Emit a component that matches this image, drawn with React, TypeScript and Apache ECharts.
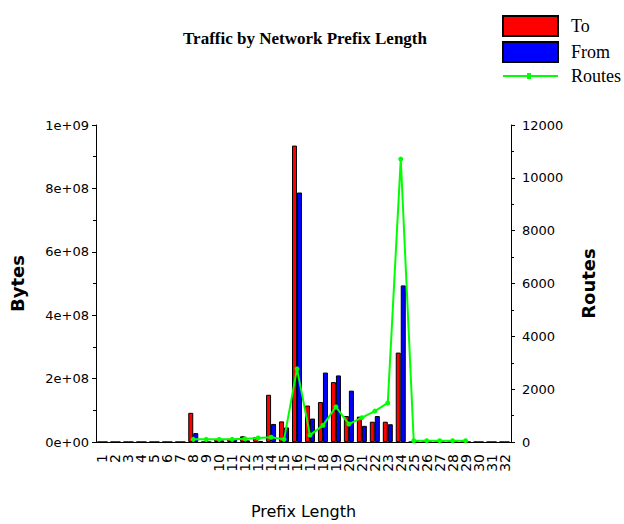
import React, { useEffect, useRef } from "react";
import * as echarts from "echarts";

const categories: string[] = Array.from({ length: 32 }, (_, i) => String(i + 1));

const toBytes: number[] = [
  0, 0, 0, 0, 0, 0, 0, 9.2e7, 0, 9e6,
  1e7, 1.8e7, 1.5e7, 1.49e8, 6.5e7, 9.35e8, 1.15e8, 1.26e8, 1.89e8, 8.2e7,
  8e7, 6.4e7, 6.4e7, 2.82e8, 0, 0, 0, 0, 0, 0,
  0, 0,
];

const fromBytes: number[] = [
  0, 0, 0, 0, 0, 0, 0, 2.8e7, 0, 5e6,
  1e7, 5e6, 3e6, 5.7e7, 4.6e7, 7.87e8, 7.4e7, 2.19e8, 2.1e8, 1.62e8,
  5.1e7, 8.2e7, 5.6e7, 4.94e8, 0, 0, 0, 0, 0, 0,
  0, 0,
];

const routes: (number | null)[] = [
  null, null, null, null, null, null, null, 100, 100, 100,
  100, 120, 150, 180, 100, 2770, 260, 630, 1330, 680,
  920, 1170, 1480, 10710, 50, 50, 50, 50, 50, null,
  null, null,
];

const leftTickLabels: string[] = ["0e+00", "2e+08", "4e+08", "6e+08", "8e+08", "1e+09"];
const rightTickLabels: string[] = ["0", "2000", "4000", "6000", "8000", "10000", "12000"];

const routesIcon =
  "path://M0,2 L24,2 L24,0 L28,0 L28,2 L55,2 L55,4 L28,4 L28,6 L24,6 L24,4 L0,4 Z";

const App: React.FC = () => {
  const ref = useRef<HTMLDivElement>(null);

  useEffect(() => {
    if (!ref.current) return;
    const chart = echarts.init(ref.current, undefined, { renderer: "svg" });
    const axisFont = { fontFamily: "DejaVu Sans", fontSize: 13, color: "#000" };
    chart.setOption({
      animation: false,
      backgroundColor: "#fff",
      title: {
        text: "Traffic by Network Prefix Length",
        left: 300,
        top: 25,
        textAlign: "center",
        textStyle: {
          fontFamily: "Liberation Serif",
          fontWeight: "bold",
          fontSize: 17,
          color: "#000",
        },
      },
      legend: {
        orient: "vertical",
        left: 497,
        top: 10,
        itemWidth: 55,
        itemHeight: 20,
        itemGap: 4,
        data: [
          { name: "To", icon: "rect" },
          { name: "From", icon: "rect" },
          { name: "Routes", icon: routesIcon },
        ],
        textStyle: {
          fontFamily: "Liberation Serif",
          fontSize: 18,
          color: "#000",
          padding: [0, 0, 0, 8],
        },
      },
      grid: { left: 87, right: 113, top: 125, bottom: 74 },
      xAxis: {
        type: "category",
        data: categories,
        name: "Prefix Length",
        nameLocation: "middle",
        nameGap: 61,
        nameTextStyle: { fontFamily: "DejaVu Sans", fontSize: 16, color: "#000" },
        axisLine: { lineStyle: { color: "#000", width: 1 } },
        axisTick: { inside: true, length: 4, alignWithLabel: true, lineStyle: { color: "#000" } },
        axisLabel: { ...axisFont, fontSize: 14, rotate: 90, interval: 0, margin: 12 },
      },
      yAxis: [
        {
          type: "value",
          min: 0,
          max: 1e9,
          interval: 2e8,
          name: "Bytes",
          nameLocation: "middle",
          nameRotate: 90,
          nameGap: 70,
          nameTextStyle: { fontFamily: "DejaVu Sans", fontWeight: "bold", fontSize: 18, color: "#000" },
          axisLine: { show: true, lineStyle: { color: "#000", width: 1 } },
          axisTick: { show: true, length: 4, lineStyle: { color: "#000" } },
          minorTick: { show: true, splitNumber: 2, length: 3, lineStyle: { color: "#000" } },
          splitLine: { show: false },
          axisLabel: {
            ...axisFont,
            margin: 7,
            formatter: (_v: number, i: number) => leftTickLabels[i],
          },
        },
        {
          type: "value",
          min: 0,
          max: 12000,
          interval: 2000,
          position: "right",
          name: "Routes",
          nameLocation: "middle",
          nameRotate: 90,
          nameGap: 68,
          nameTextStyle: { fontFamily: "DejaVu Sans", fontWeight: "bold", fontSize: 18, color: "#000" },
          axisLine: { show: true, lineStyle: { color: "#000", width: 1 } },
          axisTick: { show: true, length: 4, lineStyle: { color: "#000" } },
          minorTick: { show: true, splitNumber: 2, length: 3, lineStyle: { color: "#000" } },
          splitLine: { show: false },
          axisLabel: {
            ...axisFont,
            margin: 11,
            formatter: (_v: number, i: number) => rightTickLabels[i],
          },
        },
      ],
      series: [
        {
          name: "To",
          type: "bar",
          data: toBytes,
          barWidth: 5,
          barGap: "0%",
          itemStyle: { color: "#ff0000", borderColor: "#000", borderWidth: 1 },
        },
        {
          name: "From",
          type: "bar",
          data: fromBytes,
          barWidth: 5,
          barGap: "0%",
          itemStyle: { color: "#0000ff", borderColor: "#000", borderWidth: 1 },
        },
        {
          name: "Routes",
          type: "line",
          yAxisIndex: 1,
          data: routes,
          symbol: "circle",
          symbolSize: 5,
          connectNulls: false,
          lineStyle: { color: "#00ff00", width: 2 },
          itemStyle: { color: "#00ff00" },
          z: 5,
        },
      ],
    });
    return () => chart.dispose();
  }, []);

  return (
    <div
      ref={ref}
      style={{ position: "absolute", left: 0, top: 0, width: 624, height: 524 }}
    />
  );
};

export default App;
